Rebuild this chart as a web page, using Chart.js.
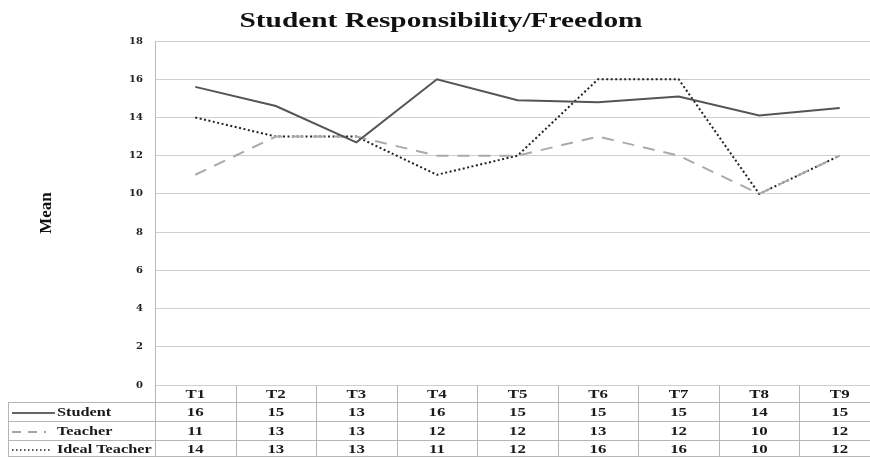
<!DOCTYPE html>
<html>
<head>
<meta charset="utf-8">
<script src="https://cdn.jsdelivr.net/npm/chart.js@4/dist/chart.umd.min.js"></script>
<style>
  html, body { margin: 0; padding: 0; background: #fff; overflow: hidden; }
  #wrap { width: 882px; height: 457px; }
</style>
</head>
<body>
<div id="wrap"><canvas id="myChart" width="882" height="457"></canvas></div>
<script>
// data
const categories = ["T1", "T2", "T3", "T4", "T5", "T6", "T7", "T8", "T9"];
const studentMeans = [15.6, 14.6, 12.7, 16.0, 14.9, 14.8, 15.1, 14.1, 14.5];
const teacherMeans = [11, 13, 13, 12, 12, 13, 12, 10, 12];
const idealMeans = [14, 13, 13, 11, 12, 16, 16, 10, 12];
// rounded values printed in the data table
const studentTable = [16, 15, 13, 16, 15, 15, 15, 14, 15];
const teacherTable = [11, 13, 13, 12, 12, 13, 12, 10, 12];
const idealTable = [14, 13, 13, 11, 12, 16, 16, 10, 12];
const seriesNames = ["Student", "Teacher", "Ideal Teacher"];
const yTicks = [0, 2, 4, 6, 8, 10, 12, 14, 16, 18];

const SERIF = "'Liberation Serif', 'Times New Roman', serif";

// text drawn a bit wider than the font, like the picture
function wideText(ctx, txt, x, y, align, sx) {
    ctx.save();
    ctx.translate(x, y);
    ctx.scale(sx, 1);
    ctx.textAlign = align;
    ctx.fillText(txt, 0, 0);
    ctx.restore();
}

const tablePlugin = {
    id: "tablePlugin",
    afterDraw(chart) {
        const ctx = chart.ctx;
        const area = chart.chartArea;
        const xs = chart.scales.x;
        const colW = (area.right - area.left) / categories.length;
        const rowY = [area.bottom, 403, 422, 441, 457];
        const leftX = 8;

        ctx.save();
        // title
        ctx.fillStyle = "#111";
        ctx.font = "bold 21px " + SERIF;
        ctx.textBaseline = "alphabetic";
        let w = ctx.measureText("Student Responsibility/Freedom").width;
        wideText(ctx, "Student Responsibility/Freedom", 441, 27, "center", 403 / w);

        // grid of the table
        ctx.strokeStyle = "#b5b5b5";
        ctx.lineWidth = 1;
        ctx.beginPath();
        for (let r = 1; r < rowY.length; r++) {
            ctx.moveTo(leftX, rowY[r] - 0.5);
            ctx.lineTo(area.right, rowY[r] - 0.5);
        }
        ctx.moveTo(leftX + 0.5, rowY[1]);
        ctx.lineTo(leftX + 0.5, rowY[4]);
        for (let i = 0; i <= categories.length; i++) {
            let x = Math.round(area.left + i * colW) + 0.5;
            ctx.moveTo(x, area.bottom);
            ctx.lineTo(x, rowY[4]);
        }
        ctx.stroke();

        // cells
        ctx.fillStyle = "#1a1a1a";
        ctx.font = "bold 13px " + SERIF;
        ctx.textBaseline = "middle";
        const rows = [categories, studentTable, teacherTable, idealTable];
        const centers = [395, 413, 432, 450];
        rows.forEach((vals, r) => {
            vals.forEach((v, i) => {
                wideText(ctx, String(v), xs.getPixelForValue(i), centers[r], "center", 1.3);
            });
        });

        // row labels with line samples
        seriesNames.forEach((name, r) => {
            wideText(ctx, name, 57, centers[r + 1], "left", 1.25);
        });
        ctx.lineWidth = 1.5;
        ctx.strokeStyle = "#333";
        ctx.beginPath();
        ctx.moveTo(12, 413); ctx.lineTo(55, 413);
        ctx.stroke();
        ctx.strokeStyle = "#888";
        ctx.setLineDash([9, 7]);
        ctx.beginPath();
        ctx.moveTo(12, 432); ctx.lineTo(46, 432);
        ctx.stroke();
        ctx.strokeStyle = "#222";
        ctx.setLineDash([1.5, 2.5]);
        ctx.beginPath();
        ctx.moveTo(12, 450); ctx.lineTo(50, 450);
        ctx.stroke();
        ctx.restore();
    }
};

new Chart(document.getElementById("myChart").getContext("2d"), {
    type: "line",
    data: {
        labels: categories,
        datasets: [
            {
                label: seriesNames[0],
                data: studentMeans,
                borderColor: "#555",
                borderWidth: 2,
                pointRadius: 0,
                tension: 0
            },
            {
                label: seriesNames[1],
                data: teacherMeans,
                borderColor: "#aaa",
                borderWidth: 2,
                borderDash: [12, 9],
                pointRadius: 0,
                tension: 0
            },
            {
                label: seriesNames[2],
                data: idealMeans,
                borderColor: "#222",
                borderWidth: 2,
                borderDash: [2, 2.5],
                pointRadius: 0,
                tension: 0
            }
        ]
    },
    options: {
        responsive: false,
        animation: false,
        layout: { padding: { top: 41, bottom: 72, left: 0, right: 2 } },
        plugins: {
            legend: { display: false },
            title: { display: false },
            tooltip: { enabled: false }
        },
        scales: {
            x: {
                display: false,
                offset: true
            },
            y: {
                min: 0,
                max: 18,
                afterFit: (scale) => { scale.width = 155; },
                afterBuildTicks: (scale) => { scale.ticks = yTicks.map(v => ({ value: v })); },
                grid: { color: "#cfcfcf", lineWidth: 1, drawTicks: false },
                border: { display: true, color: "#bbb" },
                ticks: {
                    padding: 12,
                    color: "#222",
                    font: { family: "'DejaVu Serif', serif", weight: "bold", size: 10 }
                },
                title: {
                    display: true,
                    text: "Mean",
                    color: "#111",
                    font: { family: SERIF, weight: "bold", size: 17 },
                    padding: { top: 36, bottom: 4 }
                }
            }
        }
    },
    plugins: [tablePlugin]
});
</script>
</body>
</html>
